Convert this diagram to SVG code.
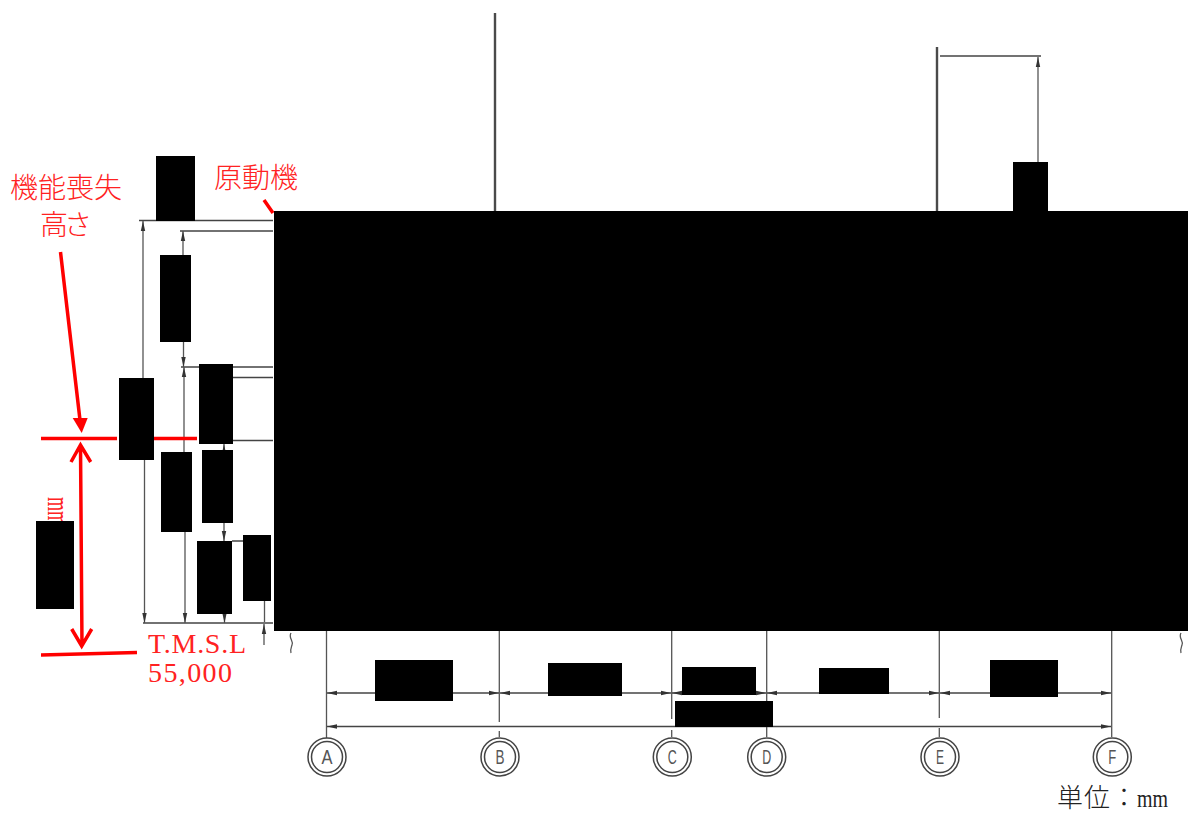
<svg xmlns="http://www.w3.org/2000/svg" width="1188" height="814" viewBox="0 0 1188 814">
<style>
.d{stroke:#555;stroke-width:1.3;fill:none}
.h{stroke:#444;stroke-width:1.6;fill:none}
.a{marker-end:url(#ah)}
.b{marker-start:url(#as);marker-end:url(#ah)}
.r{stroke:#f00;stroke-width:3.5;fill:none}
.m{fill:#000}
.t{fill:#f22;font-family:"Noto Sans CJK JP","Noto Sans CJK SC",sans-serif;font-size:28px;font-weight:300}
.s{fill:#f22;font-family:"Liberation Serif",serif;font-size:28px}
.c{fill:#fff;stroke:#444;stroke-width:1.5}
.l{fill:#555;font-family:"Liberation Sans",sans-serif;font-size:20px;text-anchor:middle}
</style>
<defs>
<marker id="ah" markerUnits="userSpaceOnUse" markerWidth="10" markerHeight="6" refX="10" refY="3" orient="auto"><path d="M0 .8L10 3L0 5.2Z" fill="#333"/></marker>
<marker id="as" markerUnits="userSpaceOnUse" markerWidth="10" markerHeight="6" refX="0" refY="3" orient="auto"><path d="M10 .8L0 3L10 5.2Z" fill="#333"/></marker>
</defs>
<rect width="1188" height="814" fill="#fff"/>
<g id="connectors">
<path class="h" d="M139 220.500H273M180 231H273M181 367H273M233 377.500H273M233 440.500H273M232 541H243M143 623H273"/>
<path class="d a" d="M143 378V221"/>
<path class="d a" d="M144.500 460V623"/>
<path class="d a" d="M183 255V231"/>
<path class="d a" d="M183.500 342V367"/>
<path class="d a" d="M184 452V367"/>
<path class="d a" d="M185 532V623"/>
<path class="d a" d="M224 450V444"/>
<path class="d a" d="M224 523V541"/>
<path class="d a" d="M224.500 614V623"/>
<path class="d" d="M264.500 601V622"/>
<path class="d a" d="M264 645V624"/>
<path class="d" d="M291 633c-3 5 3 8 1 12c-1 3-2 5-1 8"/>
<path class="d" d="M1181 633c-3 5 3 8 1 12c-1 3-2 5-1 8"/>
<path class="d" d="M326.500 631V738M499.300 631V722M499.300 731V737M671.700 631V719M671.700 730V737M766.700 631V737M939.300 631V718M939.300 728V737M1111.700 631V737"/>
<path class="h b" d="M327 693H499"/>
<path class="h b" d="M500 693H671"/>
<path class="h b" d="M672 693H766"/>
<path class="h b" d="M767 693H939"/>
<path class="h b" d="M940 693H1111"/>
<path class="h b" d="M327 726.500H1111"/>
<path d="M495 13V211M937 47V211" fill="none" stroke="#4a4a4a" stroke-width="2.400"/>
<path class="h" d="M940 56H1041"/>
<path class="d a" d="M1038 162V57"/>
</g>
<g id="grid-bubbles">
<g id="bubble-a"><circle class="c" cx="327" cy="757" r="19"/><circle class="c" cx="327" cy="757" r="15.500"/><text class="l" x="327" y="764" textLength="11" lengthAdjust="spacingAndGlyphs">A</text></g>
<g id="bubble-b"><circle class="c" cx="500" cy="757" r="19"/><circle class="c" cx="500" cy="757" r="15.500"/><text class="l" x="500" y="764" textLength="9" lengthAdjust="spacingAndGlyphs">B</text></g>
<g id="bubble-c"><circle class="c" cx="672.300" cy="757" r="19"/><circle class="c" cx="672.300" cy="757" r="15.500"/><text class="l" x="672.300" y="764" textLength="9" lengthAdjust="spacingAndGlyphs">C</text></g>
<g id="bubble-d"><circle class="c" cx="766.700" cy="757" r="19"/><circle class="c" cx="766.700" cy="757" r="15.500"/><text class="l" x="766.700" y="764" textLength="9" lengthAdjust="spacingAndGlyphs">D</text></g>
<g id="bubble-e"><circle class="c" cx="940" cy="757" r="19"/><circle class="c" cx="940" cy="757" r="15.500"/><text class="l" x="940" y="764" textLength="8" lengthAdjust="spacingAndGlyphs">E</text></g>
<g id="bubble-f"><circle class="c" cx="1112.300" cy="757" r="19"/><circle class="c" cx="1112.300" cy="757" r="15.500"/><text class="l" x="1112.300" y="764" textLength="8" lengthAdjust="spacingAndGlyphs">F</text></g>
</g>
<g id="annotations">
<path class="r" d="M41 438.500H117M154 438.500H197M41 655L137 652.500M264 200L273 213M60.500 252L80 420"/>
<path d="M81.700 433L72.700 418H87.700Z" fill="#f00"/>
<path class="r" d="M80.500 445L82 646M71 462L80.500 445L90.700 462M71.700 629L81.700 646L91.700 629"/>
<text class="t" x="10" y="198" textLength="112">機能喪失</text>
<text class="t" x="40" y="235" textLength="52">高さ</text>
<text class="t" x="214" y="188" textLength="84">原動機</text>
<text class="s" x="148" y="653" textLength="98">T.M.S.L</text>
<text class="s" x="148" y="682" textLength="84">55,000</text>
<text class="s" transform="translate(47.500 497) rotate(90)" font-size="30" textLength="28" lengthAdjust="spacingAndGlyphs" style="font-size:31px">mm</text>
<text x="1057" y="807" font-family="'Noto Sans CJK JP','Noto Sans CJK SC',sans-serif" font-size="26" font-weight="300" fill="#222" textLength="80">単位：</text>
<text x="1137" y="807" font-family="'Liberation Serif',serif" font-size="26" fill="#222" textLength="31" lengthAdjust="spacingAndGlyphs">mm</text>
</g>
<g id="masks" class="m">
<rect x="274" y="211" width="914" height="420"/>
<rect x="156" y="156" width="39" height="65"/>
<rect x="160" y="255" width="31" height="87"/>
<rect x="199" y="364" width="34" height="80"/>
<rect x="119" y="378" width="35" height="82"/>
<rect x="161" y="452" width="31" height="80"/>
<rect x="202" y="450" width="31" height="73"/>
<rect x="197" y="541" width="35" height="73"/>
<rect x="243" y="535" width="28" height="66"/>
<rect x="36" y="521" width="38" height="88"/>
<rect x="375" y="660" width="78" height="41"/>
<rect x="548" y="663" width="74" height="33"/>
<rect x="682" y="667" width="74" height="28"/>
<rect x="675" y="701" width="98" height="26"/>
<rect x="819" y="668" width="70" height="26"/>
<rect x="990" y="660" width="68" height="37"/>
<rect x="1013" y="162" width="35" height="49"/>
</g>
</svg>
